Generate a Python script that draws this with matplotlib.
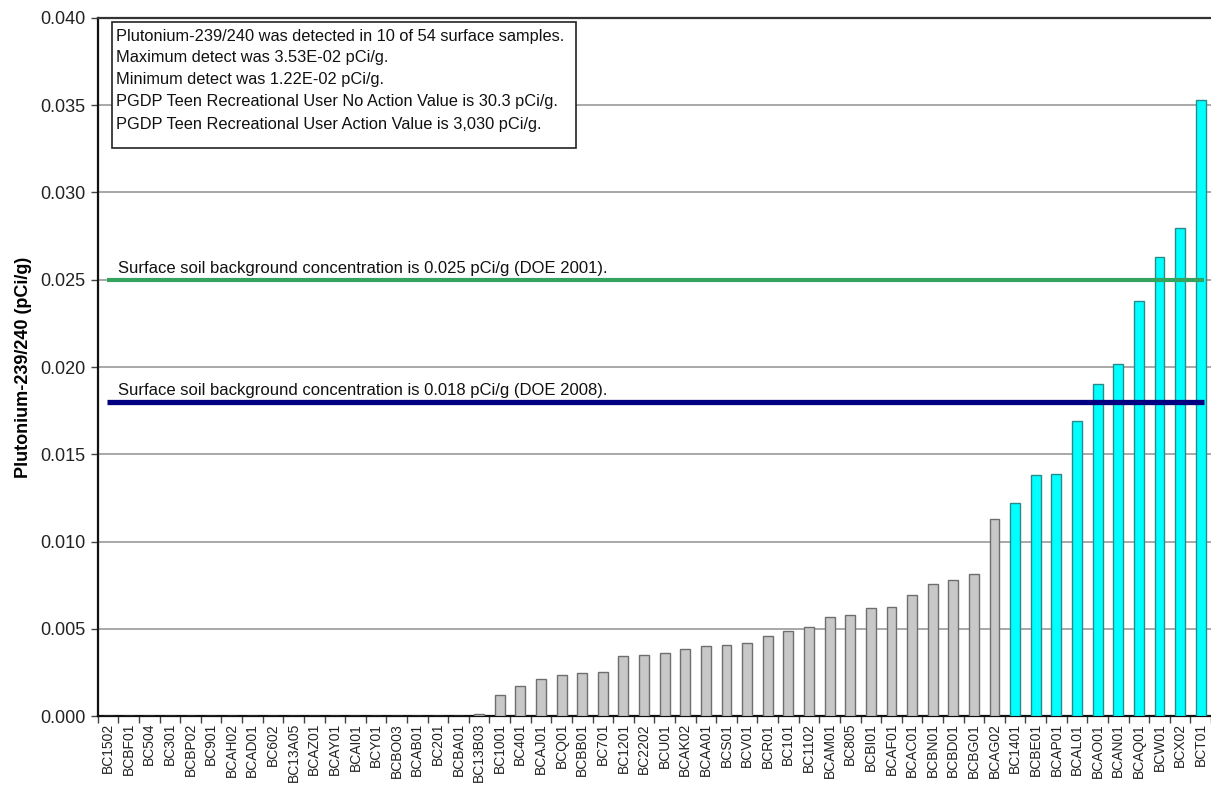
import matplotlib
matplotlib.use("Agg")
import matplotlib.pyplot as plt
from matplotlib.patches import Rectangle
import numpy as np

plt.rcParams['font.family'] = ['Liberation Sans', 'DejaVu Sans']

samples = ["BC1502", "BCBF01", "BC504", "BC301", "BCBP02", "BC901", "BCAH02", "BCAD01",
           "BC602", "BC13A05", "BCAZ01", "BCAY01", "BCAI01", "BCY01", "BCBO03", "BCAB01",
           "BC201", "BCBA01", "BC13B03", "BC1001", "BC401", "BCAJ01", "BCQ01", "BCBB01",
           "BC701", "BC1201", "BC2202", "BCU01", "BCAK02", "BCAA01", "BCS01", "BCV01",
           "BCR01", "BC101", "BC1102", "BCAM01", "BC805", "BCBI01", "BCAF01", "BCAC01",
           "BCBN01", "BCBD01", "BCBG01", "BCAG02", "BC1401", "BCBE01", "BCAP01", "BCAL01",
           "BCAO01", "BCAN01", "BCAQ01", "BCW01", "BCX02", "BCT01"]

values = [0, 0, 0, 0, 0, 0, 0, 0,
          0, 0, 0, 0, 0, 0, 0, 0,
          0, 0, 0.00013, 0.00118, 0.00174, 0.00211, 0.00233, 0.00244,
          0.00254, 0.00344, 0.00351, 0.00361, 0.00382, 0.00401, 0.00409, 0.0042,
          0.00458, 0.00489, 0.00512, 0.00569, 0.00577, 0.0062, 0.00625, 0.00692,
          0.00756, 0.00781, 0.00815, 0.01128, 0.0122, 0.01379, 0.01386, 0.01688,
          0.01901, 0.02019, 0.02379, 0.02633, 0.02795, 0.0353]

detected = [False] * 44 + [True] * 10

bg_2001 = 0.025
bg_2008 = 0.018
bg_2001_label = "Surface soil background concentration is 0.025 pCi/g (DOE 2001)."
bg_2008_label = "Surface soil background concentration is 0.018 pCi/g (DOE 2008)."

info_lines = ["Plutonium-239/240 was detected in 10 of 54 surface samples.",
              "Maximum detect was 3.53E-02 pCi/g.",
              "Minimum detect was 1.22E-02 pCi/g.",
              "PGDP Teen Recreational User No Action Value is 30.3 pCi/g.",
              "PGDP Teen Recreational User Action Value is 3,030 pCi/g."]

yticks = [0.0, 0.005, 0.010, 0.015, 0.020, 0.025, 0.030, 0.035, 0.040]
ylabel = "Plutonium-239/240 (pCi/g)"

fig = plt.figure(figsize=(12.11, 7.89), dpi=100)
ax = fig.add_axes([0.0807, 0.0925, 0.9193, 0.8847])

x = np.arange(len(samples))
face = ["#00FFFF" if d else "#C8C8C8" for d in detected]
edge = ["#2A8A8A" if d else "#6E6E6E" for d in detected]
ax.bar(x, values, width=0.48, color=face, edgecolor=edge, linewidth=1.0, zorder=3)

ax.set_xlim(-0.5, len(samples) - 0.5)
ax.set_ylim(0, 0.040)
ax.set_yticks(yticks)
ax.set_yticklabels([f"{v:.3f}" for v in yticks], fontsize=13, color="#222222")
ax.yaxis.grid(True, color="#A8A8A8", linewidth=1.4, zorder=0)
ax.set_axisbelow(True)

ax.set_xticks(x)
ax.set_xticklabels(samples, rotation=90, fontsize=10, color="#222222")
ax.tick_params(axis='x', which='major', length=0, pad=5)
ax.set_xticks(np.arange(-0.5, len(samples) + 0.5, 1), minor=True)
ax.tick_params(axis='x', which='minor', length=5, width=1, direction='out', color="#444444")
ax.tick_params(axis='y', length=5, width=1, direction='out', pad=4, color="#444444")

ax.set_ylabel(ylabel, fontsize=13, fontweight='bold', labelpad=6)

for s in ['left', 'bottom']:
    ax.spines[s].set_linewidth(1.6)
    ax.spines[s].set_color("#111111")
ax.spines['top'].set_linewidth(1.6)
ax.spines['top'].set_color("#333333")
ax.spines['right'].set_visible(False)

ax.hlines(bg_2001, -0.05, len(samples) - 0.85, color="#33A35F", linewidth=3, zorder=4)
ax.hlines(bg_2008, -0.05, len(samples) - 0.85, color="#000080", linewidth=3.8, zorder=4)
ax.text(0.48, bg_2001 + 0.0002, bg_2001_label, fontsize=12, va='bottom', ha='left', color="#111111")
ax.text(0.48, bg_2008 + 0.0002, bg_2008_label, fontsize=12, va='bottom', ha='left', color="#111111")

ax.add_patch(Rectangle((0.0128, 0.8138), 0.4168, 0.1805, transform=ax.transAxes,
                       facecolor="white", edgecolor="#222222", linewidth=1.2, zorder=5))
ys = [0.9728, 0.9427, 0.9112, 0.8797, 0.8481]
for t, yy in zip(info_lines, ys):
    ax.text(0.0168, yy, t, transform=ax.transAxes, fontsize=11.8, va='center', ha='left',
            color="#111111", zorder=6)

fig.savefig("out.png", dpi=100)
